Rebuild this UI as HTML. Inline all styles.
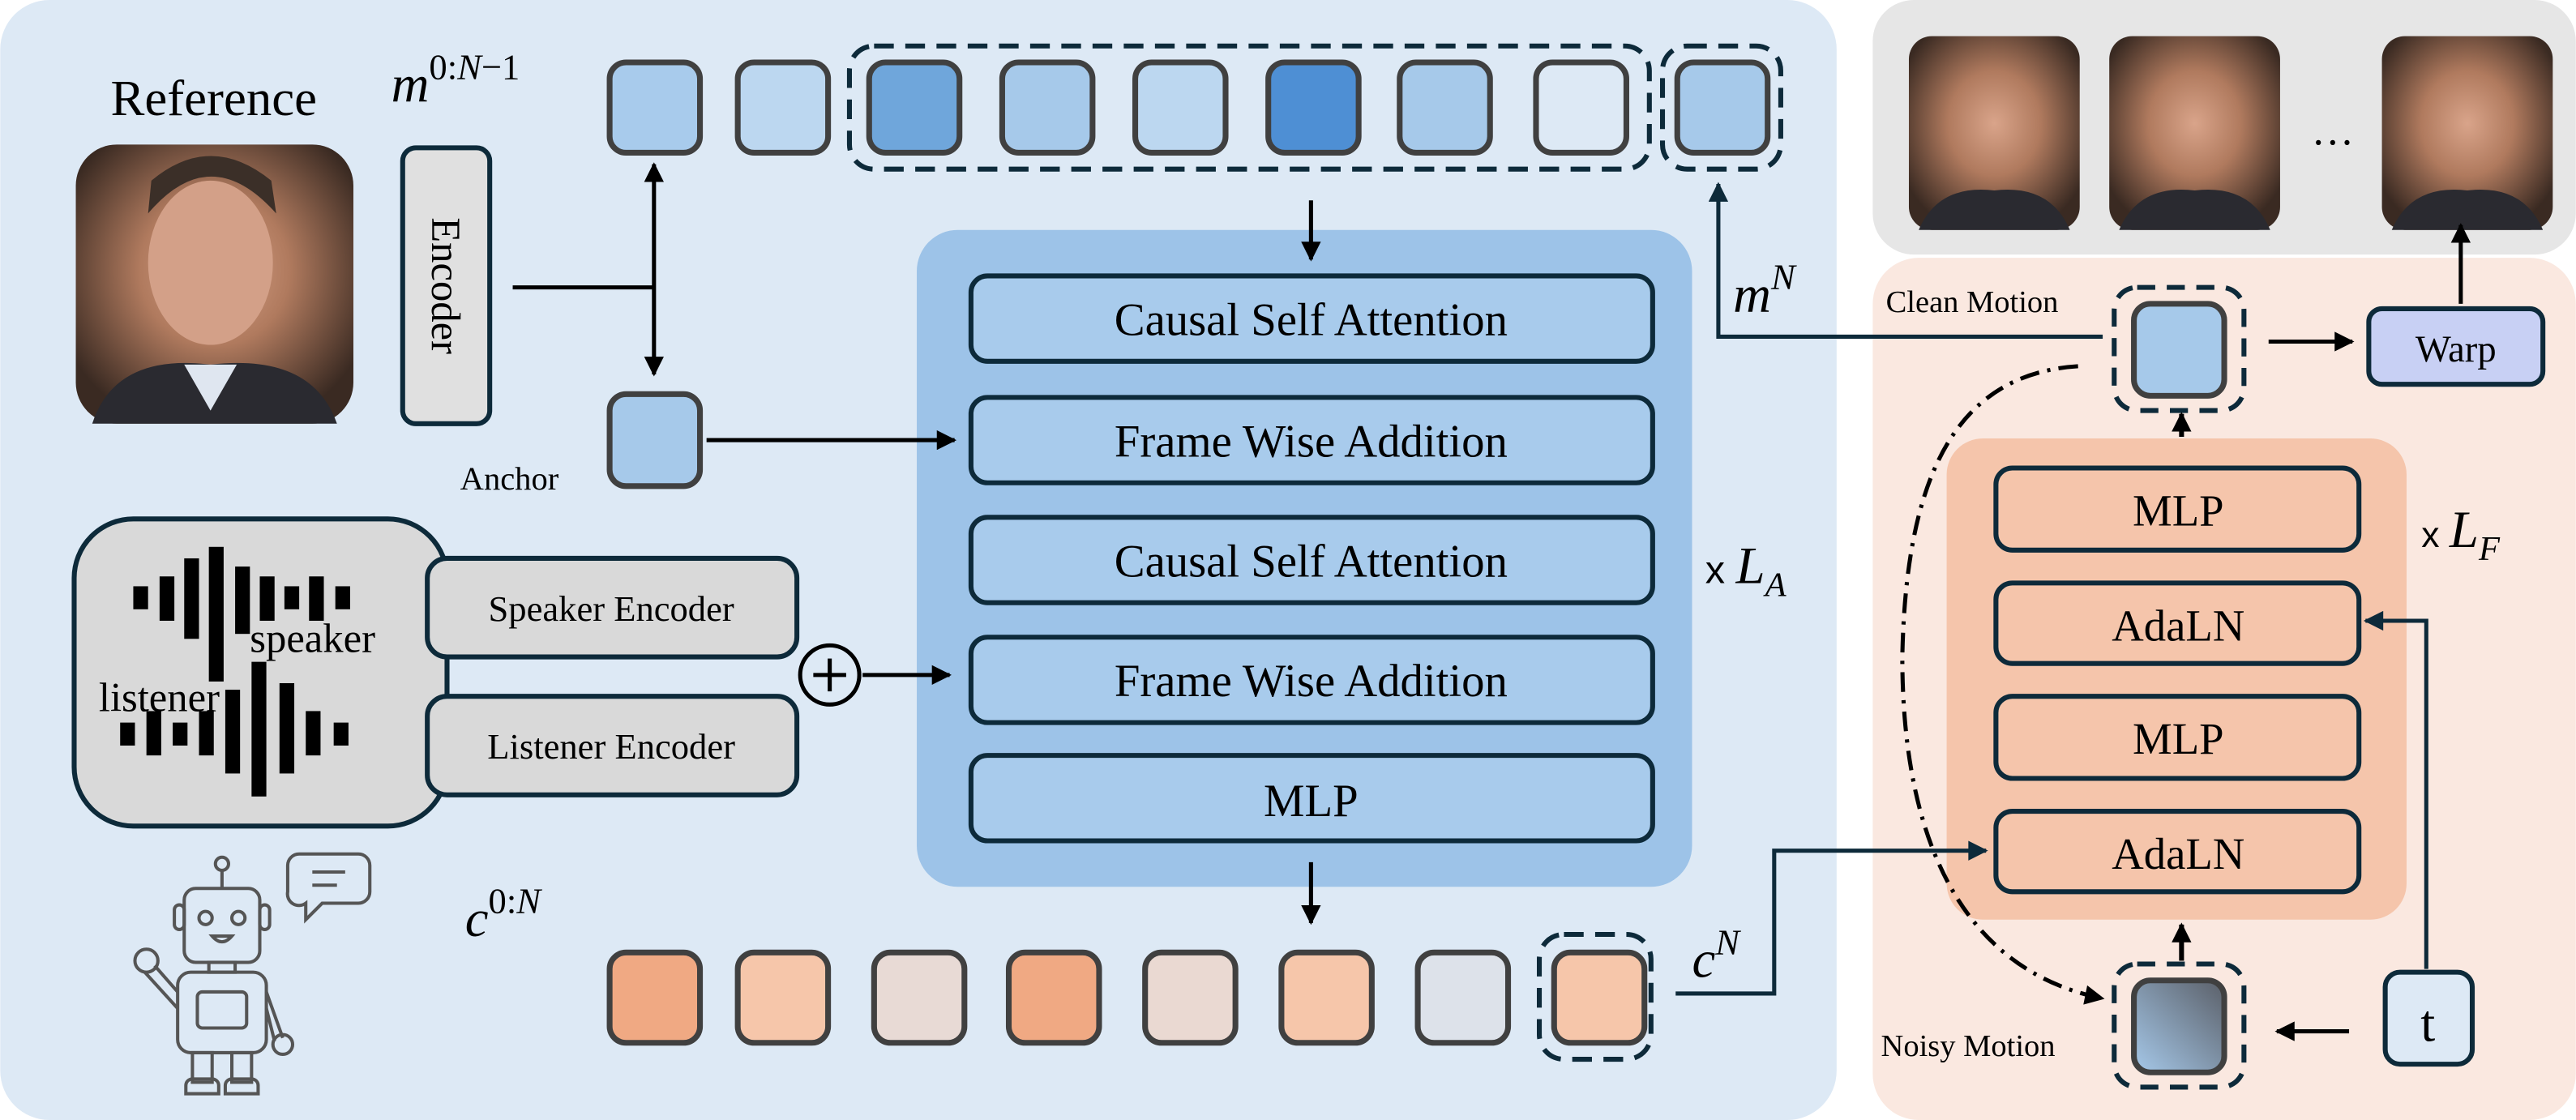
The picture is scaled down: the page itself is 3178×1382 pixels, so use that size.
<!DOCTYPE html>
<html><head><meta charset="utf-8"><style>html,body{margin:0;padding:0;background:#fff}svg{display:block}text{font-family:"Liberation Serif",serif}</style></head><body>
<svg width="3178" height="1382" viewBox="0 0 1568 682" xmlns="http://www.w3.org/2000/svg">
<defs>
<marker id="ah2" viewBox="0 0 10 10" markerWidth="14" markerHeight="12" refX="9" refY="5" orient="auto-start-reverse" markerUnits="userSpaceOnUse"><path d="M0,0 L10,5 L0,10 z" fill="#000"/></marker>
<marker id="ahd" viewBox="0 0 10 10" markerWidth="16" markerHeight="12" refX="9" refY="5" orient="auto" markerUnits="userSpaceOnUse"><path d="M0,0 L10,5 L0,10 z" fill="#0d2a3a"/></marker>
<linearGradient id="ng" x1="1" y1="0" x2="0" y2="1"><stop offset="0" stop-color="#5a5f68"/><stop offset="1" stop-color="#a6c9ea"/></linearGradient>
<radialGradient id="face" cx="0.5" cy="0.45" r="0.6"><stop offset="0" stop-color="#d9a48a"/><stop offset="0.45" stop-color="#b07a5e"/><stop offset="1" stop-color="#3a2a22"/></radialGradient>
</defs>
<rect x="0" y="0" width="1118" height="682" rx="30" fill="#dde9f5"/>
<rect x="1140" y="0" width="428" height="155" rx="25" fill="#e6e6e6"/>
<rect x="1140" y="157" width="428" height="525" rx="28" fill="#fae8e0"/>

<text x="130" y="70" font-size="31" text-anchor="middle">Reference</text>
<rect x="46" y="88" width="169" height="170" rx="25" fill="url(#face)"/>
<ellipse cx="128" cy="160" rx="38" ry="50" fill="#d3a088"/>
<path d="M90,130 Q128,85 168,130 L165,110 Q128,80 92,110z" fill="#3b2f28"/>
<path d="M56,258 Q70,215 128,222 Q190,215 205,258z" fill="#2a2a30"/>
<path d="M112,222 L128,250 L144,222z" fill="#dfe6f0"/>

<rect x="245" y="90" width="53" height="168" rx="8" fill="#e0e0e0" stroke="#0d2a3a" stroke-width="3"/>
<text transform="translate(263,174) rotate(90)" font-size="25" text-anchor="middle">Encoder</text>

<text x="238" y="62" font-size="32" font-style="italic">m<tspan font-size="22" dy="-14" font-style="normal">0:</tspan><tspan font-size="22" font-style="italic">N</tspan><tspan font-size="22" font-style="normal">−1</tspan></text>

<g stroke="#404040" stroke-width="3.5">
<rect x="371" y="38" width="55" height="55" rx="10" fill="#a8cbec"/>
<rect x="449" y="38" width="55" height="55" rx="10" fill="#bcd7f0"/>
<rect x="529" y="38" width="55" height="55" rx="10" fill="#6fa6db"/>
<rect x="610" y="38" width="55" height="55" rx="10" fill="#a6c9ea"/>
<rect x="691" y="38" width="55" height="55" rx="10" fill="#bcd7f0"/>
<rect x="772" y="38" width="55" height="55" rx="10" fill="#4e8fd4"/>
<rect x="852" y="38" width="55" height="55" rx="10" fill="#a6c9ea"/>
<rect x="935" y="38" width="55" height="55" rx="10" fill="#dde9f5"/>
<rect x="1021" y="38" width="55" height="55" rx="10" fill="#a6c9ea"/>
</g>
<g fill="none" stroke="#0d2a3a" stroke-width="3" stroke-dasharray="12,7">
<rect x="517" y="28" width="487" height="75" rx="15"/>
<rect x="1012" y="28" width="72" height="75" rx="15"/>
</g>

<line x1="312" y1="175" x2="398" y2="175" stroke="#000" stroke-width="2.5"/>
<line x1="398" y1="100" x2="398" y2="228" stroke="#000" stroke-width="2.5" marker-start="url(#ah2)" marker-end="url(#ah2)"/>
<rect x="371" y="240" width="55" height="56" rx="10" fill="#a6c9ea" stroke="#404040" stroke-width="3.5"/>
<text x="280" y="298" font-size="20">Anchor</text>

<rect x="558" y="140" width="472" height="400" rx="25" fill="#9dc3e8"/>
<line x1="430" y1="268" x2="581" y2="268" stroke="#000" stroke-width="2.5" marker-end="url(#ah2)"/>
<line x1="798" y1="122" x2="798" y2="158" stroke="#000" stroke-width="2.5" marker-end="url(#ah2)"/>
<g fill="#a8cbec" stroke="#0d2a3a" stroke-width="3">
<rect x="591" y="168" width="415" height="52" rx="10"/>
<rect x="591" y="242" width="415" height="52" rx="10"/>
<rect x="591" y="315" width="415" height="52" rx="10"/>
<rect x="591" y="388" width="415" height="52" rx="10"/>
<rect x="591" y="460" width="415" height="52" rx="10"/>
</g>
<g font-size="28" text-anchor="middle">
<text x="798" y="204">Causal Self Attention</text>
<text x="798" y="278">Frame Wise Addition</text>
<text x="798" y="351">Causal Self Attention</text>
<text x="798" y="424">Frame Wise Addition</text>
<text x="798" y="497">MLP</text>
</g>
<text x="1038" y="355" font-size="24" style="font-family:'Liberation Sans',sans-serif">x <tspan style="font-family:'Liberation Serif',serif" font-style="italic" font-size="32">L</tspan><tspan style="font-family:'Liberation Serif',serif" font-style="italic" font-size="21" dy="8">A</tspan></text>

<rect x="45" y="316" width="227" height="187" rx="36" fill="#d9d9d9" stroke="#0d2a3a" stroke-width="3"/>
<g fill="#000">
<rect x="81" y="357" width="9" height="14"/><rect x="97" y="351" width="9" height="27"/><rect x="112" y="340" width="9" height="49"/><rect x="127" y="333" width="9" height="82"/><rect x="143" y="345" width="9" height="41"/><rect x="158" y="351" width="9" height="27"/><rect x="173" y="357" width="9" height="14"/><rect x="188" y="351" width="9" height="27"/><rect x="204" y="357" width="9" height="14"/>
<rect x="73" y="440" width="9" height="14"/><rect x="89" y="433" width="9" height="27"/><rect x="105" y="440" width="9" height="14"/><rect x="121" y="433" width="9" height="27"/><rect x="137" y="420" width="9" height="51"/><rect x="153" y="403" width="9" height="82"/><rect x="170" y="416" width="9" height="55"/><rect x="186" y="433" width="9" height="27"/><rect x="203" y="440" width="9" height="14"/>
</g>
<text x="152" y="397" font-size="25">speaker</text>
<text x="60" y="433" font-size="25">listener</text>
<g fill="#d9d9d9" stroke="#0d2a3a" stroke-width="3">
<rect x="260" y="340" width="225" height="60" rx="12"/>
<rect x="260" y="424" width="225" height="60" rx="12"/>
</g>
<text x="372" y="378" font-size="22" text-anchor="middle">Speaker Encoder</text>
<text x="372" y="462" font-size="22" text-anchor="middle">Listener Encoder</text>
<circle cx="505" cy="411" r="18" fill="none" stroke="#000" stroke-width="2.5"/>
<line x1="495" y1="411" x2="515" y2="411" stroke="#000" stroke-width="2.5"/>
<line x1="505" y1="401" x2="505" y2="421" stroke="#000" stroke-width="2.5"/>
<line x1="525" y1="411" x2="578" y2="411" stroke="#000" stroke-width="2.5" marker-end="url(#ah2)"/>

<g fill="none" stroke="#555" stroke-width="2">
<circle cx="135" cy="526" r="4"/>
<line x1="135" y1="530" x2="135" y2="541"/>
<rect x="112" y="541" width="46" height="45" rx="7"/>
<rect x="106" y="551" width="6" height="15" rx="3"/><rect x="158" y="551" width="6" height="15" rx="3"/>
<circle cx="125" cy="559" r="4"/><circle cx="145" cy="559" r="4"/>
<path d="M129,570 q6,7 12,0z"/>
<rect x="127" y="586" width="16" height="6"/>
<rect x="108" y="592" width="54" height="49" rx="8"/>
<rect x="120" y="604" width="30" height="22" rx="3"/>
<path d="M108,604 l-14,-16 M108,614 l-20,-22"/>
<path d="M162,604 l10,28 M162,614 l5,20"/>
<circle cx="89" cy="585" r="7"/><circle cx="172" cy="636" r="6"/>
<rect x="117" y="641" width="12" height="18"/><rect x="141" y="641" width="12" height="18"/>
<path d="M113,666 v-5 a4,4 0 0 1 4,-4 h12 a4,4 0 0 1 4,4 v5z"/><path d="M137,666 v-5 a4,4 0 0 1 4,-4 h12 a4,4 0 0 1 4,4 v5z"/>
<path d="M182,520 h36 a7,7 0 0 1 7,7 v16 a7,7 0 0 1 -7,7 h-22 l-10,10 v-10 a7,7 0 0 1 -11,-7 v-16 a7,7 0 0 1 7,-7z"/>
<line x1="190" y1="531" x2="210" y2="531"/><line x1="190" y1="539" x2="205" y2="539"/>
</g>

<text x="283" y="570" font-size="32" font-style="italic">c<tspan font-size="22" dy="-14" font-style="normal">0:</tspan><tspan font-size="22">N</tspan></text>
<line x1="798" y1="525" x2="798" y2="562" stroke="#000" stroke-width="2.5" marker-end="url(#ah2)"/>
<g stroke="#404040" stroke-width="3.5">
<rect x="371" y="580" width="55" height="55" rx="10" fill="#f0a983"/>
<rect x="449" y="580" width="55" height="55" rx="10" fill="#f6c6aa"/>
<rect x="532" y="580" width="55" height="55" rx="10" fill="#e8dad5"/>
<rect x="614" y="580" width="55" height="55" rx="10" fill="#f0a983"/>
<rect x="697" y="580" width="55" height="55" rx="10" fill="#ead9d2"/>
<rect x="780" y="580" width="55" height="55" rx="10" fill="#f6c6aa"/>
<rect x="863" y="580" width="55" height="55" rx="10" fill="#dde2ea"/>
<rect x="946" y="580" width="55" height="55" rx="10" fill="#f6c6aa"/>
</g>
<rect x="937" y="569" width="68" height="76" rx="15" fill="none" stroke="#0d2a3a" stroke-width="3" stroke-dasharray="12,7"/>
<text x="1030" y="595" font-size="32" font-style="italic">c<tspan font-size="22" dy="-14">N</tspan></text>

<text x="1055" y="190" font-size="32" font-style="italic">m<tspan font-size="22" dy="-14">N</tspan></text>
<polyline points="1280,205 1046,205 1046,112" fill="none" stroke="#0d2a3a" stroke-width="2.5" marker-end="url(#ahd)"/>

<g>
<rect x="1162" y="22" width="104" height="118" rx="14" fill="url(#face)"/>
<rect x="1284" y="22" width="104" height="118" rx="14" fill="url(#face)"/>
<rect x="1450" y="22" width="104" height="118" rx="14" fill="url(#face)"/>
<path d="M1168,140 Q1180,112 1214,116 Q1248,112 1260,140z" fill="#2a2a30"/>
<path d="M1290,140 Q1302,112 1336,116 Q1370,112 1382,140z" fill="#2a2a30"/>
<path d="M1456,140 Q1468,112 1502,116 Q1536,112 1548,140z" fill="#2a2a30"/>
</g>
<text x="1420" y="88" font-size="26" text-anchor="middle">…</text>

<text x="1148" y="190" font-size="19">Clean Motion</text>
<rect x="1287" y="175" width="79" height="75" rx="14" fill="none" stroke="#0d2a3a" stroke-width="3" stroke-dasharray="11,7"/>
<rect x="1299" y="185" width="55" height="56" rx="10" fill="#a6c9ea" stroke="#404040" stroke-width="3.5"/>
<line x1="1381" y1="208" x2="1432" y2="208" stroke="#000" stroke-width="2.5" marker-end="url(#ah2)"/>
<rect x="1442" y="188" width="106" height="46" rx="8" fill="#c8d0f4" stroke="#0d2a3a" stroke-width="3"/>
<text x="1495" y="220" font-size="23" text-anchor="middle">Warp</text>
<line x1="1498" y1="185" x2="1498" y2="137" stroke="#000" stroke-width="2.5" marker-end="url(#ah2)"/>

<rect x="1185" y="267" width="280" height="293" rx="22" fill="#f5c5ab"/>
<line x1="1328" y1="266" x2="1328" y2="252" stroke="#000" stroke-width="3" marker-end="url(#ah2)"/>
<g fill="#f5c5ab" stroke="#0d2a3a" stroke-width="3">
<rect x="1215" y="285" width="221" height="50" rx="10"/>
<rect x="1215" y="355" width="221" height="49" rx="10"/>
<rect x="1215" y="424" width="221" height="50" rx="10"/>
<rect x="1215" y="494" width="221" height="49" rx="10"/>
</g>
<g font-size="27" text-anchor="middle">
<text x="1326" y="320">MLP</text>
<text x="1326" y="390">AdaLN</text>
<text x="1326" y="459">MLP</text>
<text x="1326" y="529">AdaLN</text>
</g>
<text x="1474" y="333" font-size="22" style="font-family:'Liberation Sans',sans-serif">x <tspan style="font-family:'Liberation Serif',serif" font-style="italic" font-size="32">L</tspan><tspan style="font-family:'Liberation Serif',serif" font-style="italic" font-size="21" dy="8">F</tspan></text>

<polyline points="1020,605 1080,605 1080,518 1209,518" fill="none" stroke="#0d2a3a" stroke-width="2.5" marker-end="url(#ahd)"/>
<polyline points="1477,590 1477,378 1440,378" fill="none" stroke="#0d2a3a" stroke-width="2.5" marker-end="url(#ahd)"/>
<rect x="1452" y="592" width="53" height="56" rx="9" fill="#dde9f5" stroke="#0d2a3a" stroke-width="3"/>
<text x="1478" y="634" font-size="32" text-anchor="middle">t</text>
<line x1="1430" y1="628" x2="1386" y2="628" stroke="#000" stroke-width="2.5" marker-end="url(#ah2)"/>
<rect x="1287" y="587" width="79" height="75" rx="14" fill="none" stroke="#0d2a3a" stroke-width="3" stroke-dasharray="11,7"/>
<rect x="1299" y="597" width="55" height="56" rx="10" fill="url(#ng)" stroke="#404040" stroke-width="3.5"/>
<line x1="1328" y1="585" x2="1328" y2="563" stroke="#000" stroke-width="3" marker-end="url(#ah2)"/>
<text x="1145" y="643" font-size="19">Noisy Motion</text>

<path d="M1265,223 C1185,228 1160,300 1158,400 C1158,520 1200,592 1280,608" fill="none" stroke="#000" stroke-width="2.5" stroke-dasharray="12,5,2,5" marker-end="url(#ah2)"/>
</svg>
</body></html>
